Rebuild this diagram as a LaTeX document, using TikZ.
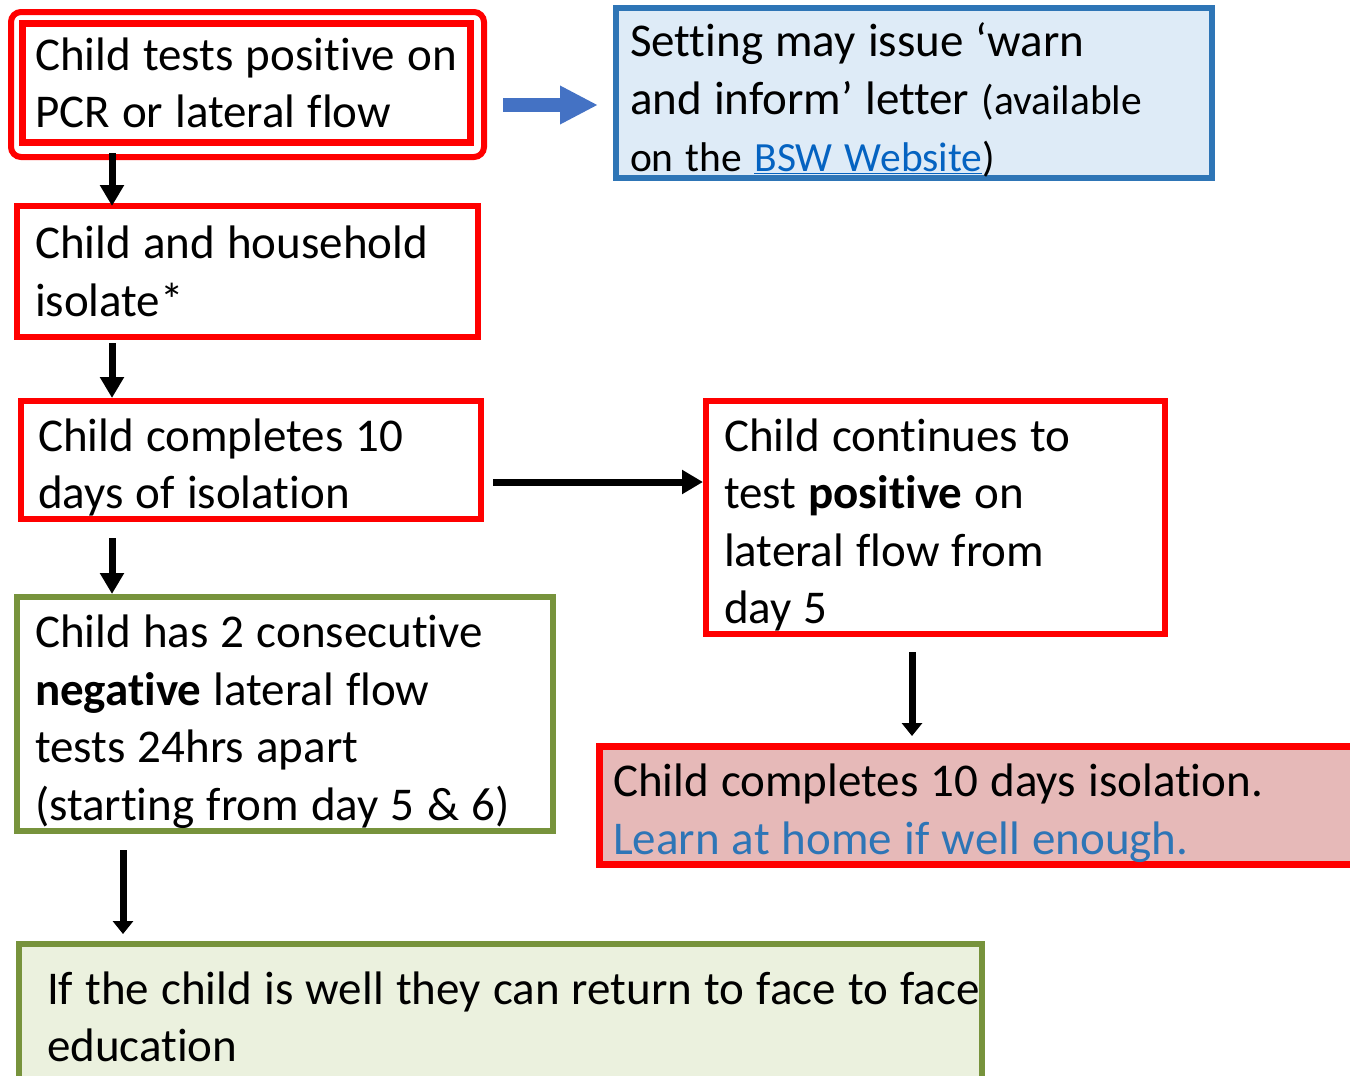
\documentclass[tikz,border=0pt]{standalone}
\usepackage{fontspec}
\setmainfont{Carlito}[Ligatures=NoCommon]
\usetikzlibrary{arrows.meta}
\definecolor{alertred}{HTML}{FF0000}
\definecolor{infoblue}{HTML}{2E75B6}
\definecolor{infofill}{HTML}{DEEBF7}
\definecolor{linkblue}{HTML}{0563C1}
\definecolor{arrowblue}{HTML}{4472C4}
\definecolor{okgreen}{HTML}{77933C}
\definecolor{okfill}{HTML}{EBF1DE}
\definecolor{stopfill}{HTML}{E6B9B8}
\newcommand\asidesize{\fontsize{41.5pt}{57.5pt}\selectfont}

\begin{document}
\begin{tikzpicture}[x=1pt, y=-1pt,
  textdrop/.store in=\boxdrop, textdrop=48pt,
  box/.style={draw, line width=6pt, outer sep=0pt, anchor=north west, align=left, inner ysep=0pt, font=\fontsize{47pt}{57.5pt}\selectfont, execute at begin node={\spaceskip=12.2pt plus 3pt minus 1pt\relax\rule{0pt}{\boxdrop}}},
  redbox/.style={box, draw=alertred},
  greenbox/.style={box, draw=okgreen},
  flow/.style={line width=7pt, -{Triangle[width=23pt,length=21pt]}},
  flatflow/.style={line width=7pt, -{Triangle[width=20pt,length=13pt]}}]
\useasboundingbox (0,0) rectangle (1350,1076);

% left column
\node[draw=alertred, line width=6pt, rounded corners=10pt, outer sep=0pt, anchor=north west, minimum width=473, minimum height=145] (pcrframe) at (11,12) {};
\node[redbox, line width=7pt, minimum width=448, minimum height=119, inner xsep=12.5pt, text width=423pt, textdrop=0pt] (pcr) at (22.5,23.5) {\mbox{Child tests positive on}\\PCR or lateral flow};
\node[redbox, minimum width=461, minimum height=131, inner xsep=18pt, text width=425pt, textdrop=0pt] (isolate) at (17,206) {Child and household\\isolate*};
\node[redbox, minimum width=460, minimum height=118, inner xsep=17pt, text width=426pt] (tenday) at (21,401) {Child completes 10\\days of isolation};
\node[greenbox, minimum width=536, minimum height=234, inner xsep=18pt, text width=500pt] (negative) at (17,597) {Child has 2 consecutive\\\textbf{negative} lateral flow\\tests 24hrs apart\\(starting from day 5 \& 6)};
\node[greenbox, fill=okfill, minimum width=963, minimum height=146, inner xsep=28pt, text width=907pt, textdrop=0pt] (home) at (19,944) {\mbox{If the child is well they can return to face to face}\\education};

% right column
\node[box, draw=infoblue, fill=infofill, minimum width=596, minimum height=170, inner xsep=14pt, text width=568pt] (warn) at (616,8) {Setting may issue ‘warn\\and inform’ letter {\asidesize(available}\\{\asidesize on the \textcolor{linkblue}{\underline{BSW Website}})}};
\node[redbox, minimum width=459, minimum height=233, inner xsep=18pt, text width=423pt] (positive) at (706,401) {Child continues to\\test \textbf{positive} on\\lateral flow from\\day 5};
\node[redbox, line width=7pt, fill=stopfill, minimum width=790, minimum height=118, inner xsep=13.5pt, text width=763pt] (stop) at (599.5,746.5) {Child completes 10 days isolation.\\\textcolor{infoblue}{Learn at home if well enough.}};

% arrows
\coordinate (leftlane) at (112,0);
\coordinate (homelane) at (123,0);
\coordinate (rightlane) at (912,0);
\coordinate (sidelane) at (0,482);
\coordinate (warnlane) at (0,105);
\draw[flow, shorten <=10.5pt] (pcr.south -| leftlane) -- (isolate.north -| leftlane);
\draw[flow, shorten <=6pt, shorten >=3pt] (isolate.south -| leftlane) -- (tenday.north -| leftlane);
\draw[flow, shorten <=19pt, shorten >=3pt] (tenday.south -| leftlane) -- (negative.north -| leftlane);
\draw[flatflow, shorten <=19pt, shorten >=10pt] (negative.south -| homelane) -- (home.north -| homelane);
\draw[flow, shorten <=12pt, shorten >=3pt] (tenday.east |- sidelane) -- (positive.west |- sidelane);
\draw[flatflow, shorten <=18pt, shorten >=10.5pt] (positive.south -| rightlane) -- (stop.north -| rightlane);
\draw[arrowblue, line width=14pt, -{Triangle[width=36pt,length=38pt]}, shorten <=19pt, shorten >=18pt] (pcrframe.east |- warnlane) -- (warn.west |- warnlane);
\end{tikzpicture}
\end{document}
